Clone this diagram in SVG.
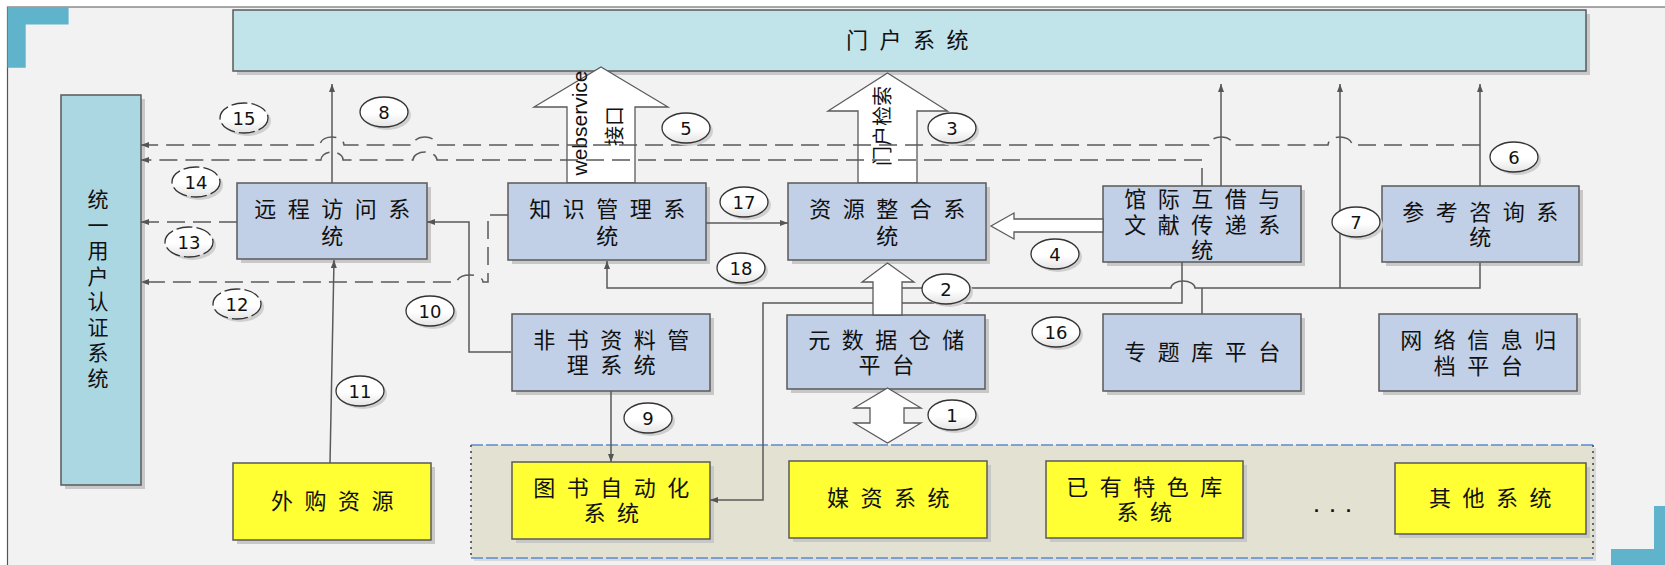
<svg xmlns="http://www.w3.org/2000/svg" width="1665" height="565" viewBox="0 0 1665 565">
<defs>
<style>
.bx{stroke:#5a5a5a;stroke-width:1.5}
.sh{fill:#c8c8c8}
.blue{fill:#c1d0e7}
.yel{fill:#ffff33}
.t{font-family:"Liberation Sans","Noto Sans CJK SC",sans-serif;font-size:22px;fill:#111;text-anchor:middle;letter-spacing:11.5px}
.tr{font-family:"Liberation Sans","Noto Sans CJK SC",sans-serif;font-size:20px;fill:#111;text-anchor:middle}
.n{font-family:"DejaVu Sans","Liberation Sans",sans-serif;font-size:18px;fill:#111;text-anchor:middle}
.el{fill:url(#cg);stroke:#333;stroke-width:1.3}
.eld{fill:url(#cg);stroke:#333;stroke-width:1.3;stroke-dasharray:16 4}
.esh{fill:#cfcfcf}
.ln{fill:none;stroke:#5a5a5a;stroke-width:1.5}
.dl{fill:none;stroke:#5a5a5a;stroke-width:1.5;stroke-dasharray:18 8}
.ba{fill:#ffffff;stroke:#5a5a5a;stroke-width:1.3}
.teal{fill:#5fb3cb}
</style>
<linearGradient id="cg" x1="0" y1="0" x2="0" y2="1">
<stop offset="0" stop-color="#ffffff"/>
<stop offset="0.55" stop-color="#ffffff"/>
<stop offset="1" stop-color="#e4e4e4"/>
</linearGradient>
<marker id="ah" viewBox="0 0 8 6" refX="8" refY="3" markerWidth="8" markerHeight="6" orient="auto" markerUnits="userSpaceOnUse">
<path d="M0,0 L8,3 L0,6 z" fill="#555"/>
</marker>
</defs>

<rect x="0" y="0" width="1665" height="565" fill="#ffffff"/>
<rect x="7.5" y="7" width="1657.5" height="558" fill="#f2f2f2"/>
<g id="frame">
<path d="M7.5,565 V7 H1665" fill="none" stroke="#555" stroke-width="1.2"/>
<path class="teal" d="M7.5,7 H68.6 V24.5 H25.7 V67.7 H7.5 Z"/>
<path class="teal" d="M1654,506 H1665 V565 H1611 V549 H1654 Z"/>
</g>

<g id="container">
<rect x="474" y="448" width="1122" height="113" fill="#d9d9d9"/>
<rect x="471" y="445" width="1122" height="113" fill="#e3e2d2"/>
<path d="M471,445 H1593 M471,558 H1593" fill="none" stroke="#5b8bd0" stroke-width="1.5" stroke-dasharray="12 3"/>
<path d="M471,445 V558 M1593,445 V558" fill="none" stroke="#666" stroke-width="2" stroke-dasharray="2 4"/>
</g>

<g id="portal">
<rect x="237" y="14" width="1353" height="61" class="sh"/>
<rect x="233" y="10" width="1353" height="61" fill="#c1e3ea" class="bx"/>
<text class="t" x="913" y="48">门户系统</text>
</g>

<g id="auth">
<rect x="65" y="99" width="80" height="390" class="sh"/>
<rect x="61" y="95" width="80" height="390" fill="#abd7e3" class="bx"/>
<text x="98" y="189" style="font-family:'Noto Sans CJK SC',sans-serif;font-size:21px;fill:#111;writing-mode:vertical-rl;letter-spacing:4.5px">统一用户认证系统</text>
</g>

<g id="arrow-webservice">
<polygon class="ba" points="601,67 668,107 635,107 635,183 567,183 567,107 534,107"/>
<text transform="translate(587,123) rotate(-90)" style="font-family:'Liberation Sans',Arial,sans-serif;font-size:21px;fill:#111;text-anchor:middle">webservice</text>
<text class="tr" transform="translate(622,126) rotate(-90)">接口</text>
</g>

<g id="arrow-portal-search">
<polygon class="ba" points="887.5,73 947.5,111 917,111 917,183 858,183 858,111 828,111"/>
<text class="tr" transform="translate(890,126) rotate(-90)">门户检索</text>
</g>

<g id="remote">
<rect x="241" y="187" width="190" height="76" class="sh"/>
<rect x="237" y="183" width="190" height="76" class="blue bx"/>
<text class="t" x="338" y="217">远程访问系</text>
<text class="t" x="338" y="244">统</text>
</g>

<g id="knowledge">
<rect x="512" y="187" width="198" height="77" class="sh"/>
<rect x="508" y="183" width="198" height="77" class="blue bx"/>
<text class="t" x="613" y="217">知识管理系</text>
<text class="t" x="613" y="244">统</text>
</g>

<g id="integration">
<rect x="792" y="187" width="198" height="77" class="sh"/>
<rect x="788" y="183" width="198" height="77" class="blue bx"/>
<text class="t" x="893" y="217">资源整合系</text>
<text class="t" x="893" y="244">统</text>
</g>

<g id="ill">
<rect x="1107" y="190" width="198" height="76" class="sh"/>
<rect x="1103" y="186" width="198" height="76" class="blue bx"/>
<text class="t" x="1208" y="207">馆际互借与</text>
<text class="t" x="1208" y="233">文献传递系</text>
<text class="t" x="1208" y="258">统</text>
</g>

<g id="reference">
<rect x="1386" y="190" width="197" height="76" class="sh"/>
<rect x="1382" y="186" width="197" height="76" class="blue bx"/>
<text class="t" x="1486" y="220">参考咨询系</text>
<text class="t" x="1486" y="245">统</text>
</g>

<g id="nonbook">
<rect x="516" y="318" width="198" height="77" class="sh"/>
<rect x="512" y="314" width="198" height="77" class="blue bx"/>
<text class="t" x="617" y="348">非书资料管</text>
<text class="t" x="617" y="373">理系统</text>
</g>

<g id="metadata">
<rect x="791" y="319" width="198" height="74" class="sh"/>
<rect x="787" y="315" width="198" height="74" class="blue bx"/>
<text class="t" x="892" y="348">元数据仓储</text>
<text class="t" x="892" y="373">平台</text>
</g>

<g id="topic">
<rect x="1107" y="318" width="198" height="77" class="sh"/>
<rect x="1103" y="314" width="198" height="77" class="blue bx"/>
<text class="t" x="1208" y="360">专题库平台</text>
</g>

<g id="webarchive">
<rect x="1383" y="318" width="198" height="77" class="sh"/>
<rect x="1379" y="314" width="198" height="77" class="blue bx"/>
<text class="t" x="1484" y="348">网络信息归</text>
<text class="t" x="1484" y="374">档平台</text>
</g>

<g id="purchased">
<rect x="237" y="467" width="198" height="77" class="sh"/>
<rect x="233" y="463" width="198" height="77" class="yel bx"/>
<text class="t" x="338" y="509">外购资源</text>
</g>

<g id="library-automation">
<rect x="516" y="466" width="198" height="77" class="sh"/>
<rect x="512" y="462" width="198" height="77" class="yel bx"/>
<text class="t" x="617" y="496">图书自动化</text>
<text class="t" x="617" y="521">系统</text>
</g>

<g id="media">
<rect x="793" y="465" width="198" height="77" class="sh"/>
<rect x="789" y="461" width="198" height="77" class="yel bx"/>
<text class="t" x="894" y="506">媒资系统</text>
</g>

<g id="special-db">
<rect x="1050" y="465" width="197" height="77" class="sh"/>
<rect x="1046" y="461" width="197" height="77" class="yel bx"/>
<text class="t" x="1150" y="495">已有特色库</text>
<text class="t" x="1150" y="520">系统</text>
</g>

<g id="ellipsis">
<text x="1338" y="512" style="font-family:'Liberation Sans',Arial,sans-serif;font-size:18px;fill:#111;text-anchor:middle;letter-spacing:11px;font-weight:bold">...</text>
</g>

<g id="other">
<rect x="1399" y="467" width="191" height="71" class="sh"/>
<rect x="1395" y="463" width="191" height="71" class="yel bx"/>
<text class="t" x="1496" y="506">其他系统</text>
</g>

<g id="connectors">
<path class="ln" d="M332,183 V84" marker-end="url(#ah)"/>
<path class="ln" d="M330,463 L334,260" marker-end="url(#ah)"/>
<path class="ln" d="M511,352 H469 V222 H427" marker-end="url(#ah)"/>
<path class="ln" d="M611,391 V462" marker-end="url(#ah)"/>
<path class="ln" d="M1182,262 V303 H763 V500 H710" marker-end="url(#ah)"/>
<path class="ln" d="M1480,263 V288 H1195 A12 7 0 0 0 1171 288 H607 V261" marker-end="url(#ah)"/>
<path class="ln" d="M1202,314 V288"/>
<path class="ln" d="M1340,288 V84" marker-end="url(#ah)"/>
<path class="ln" d="M1480,186 V84" marker-end="url(#ah)"/>
<path class="ln" d="M1221,186 V84" marker-end="url(#ah)"/>
<path class="ln" d="M706,223 H788" marker-end="url(#ah)"/>
<path class="dl" d="M1480,145 H1352 A12 8 0 0 0 1328 145 H1233 A12 8 0 0 0 1209 145 H437 A12 8 0 0 0 413 145 H344 A12 8 0 0 0 320 145 H141" marker-end="url(#ah)"/>
<path class="dl" d="M1202,186 V160 H437 A12 8 0 0 0 413 160 H343 A11 8 0 0 0 321 160 H141" marker-end="url(#ah)"/>
<path class="dl" d="M237,222 H141" marker-end="url(#ah)"/>
<path class="dl" d="M508,215 H488 V282 H483 A13 7 0 0 0 457 282 H141" marker-end="url(#ah)"/>
</g>

<g id="arrow-metadata">
<polygon class="ba" points="887.5,263 914,282 902,282 902,315 873,315 873,282 862,282"/>
</g>

<g id="arrow-sync">
<polygon class="ba" points="887.5,388 921,408 904,408 904,423 921,423 887.5,443 854,423 870,423 870,408 854,408"/>
</g>

<g id="arrow-ill">
<polygon class="ba" points="991,226 1014,213 1014,219 1103,219 1103,232 1014,232 1014,239"/>
</g>

<g id="labels">
<g id="lbl1"><ellipse class="esh" cx="955" cy="418" rx="24" ry="15"/><ellipse class="el" cx="952" cy="415" rx="24" ry="15"/><text class="n" x="952" y="421.5">1</text></g>
<g id="lbl2"><ellipse class="esh" cx="949" cy="292" rx="24" ry="15"/><ellipse class="el" cx="946" cy="289" rx="24" ry="15"/><text class="n" x="946" y="295.5">2</text></g>
<g id="lbl3"><ellipse class="esh" cx="955" cy="131" rx="24" ry="15"/><ellipse class="el" cx="952" cy="128" rx="24" ry="15"/><text class="n" x="952" y="134.5">3</text></g>
<g id="lbl4"><ellipse class="esh" cx="1058" cy="257" rx="24" ry="15"/><ellipse class="el" cx="1055" cy="254" rx="24" ry="15"/><text class="n" x="1055" y="260.5">4</text></g>
<g id="lbl5"><ellipse class="esh" cx="689" cy="131" rx="24" ry="15"/><ellipse class="el" cx="686" cy="128" rx="24" ry="15"/><text class="n" x="686" y="134.5">5</text></g>
<g id="lbl6"><ellipse class="esh" cx="1517" cy="160" rx="24" ry="15"/><ellipse class="el" cx="1514" cy="157" rx="24" ry="15"/><text class="n" x="1514" y="163.5">6</text></g>
<g id="lbl7"><ellipse class="esh" cx="1359" cy="225" rx="24" ry="15"/><ellipse class="el" cx="1356" cy="222" rx="24" ry="15"/><text class="n" x="1356" y="228.5">7</text></g>
<g id="lbl8"><ellipse class="esh" cx="387" cy="115" rx="24" ry="15"/><ellipse class="el" cx="384" cy="112" rx="24" ry="15"/><text class="n" x="384" y="118.5">8</text></g>
<g id="lbl9"><ellipse class="esh" cx="651" cy="421" rx="24" ry="15"/><ellipse class="el" cx="648" cy="418" rx="24" ry="15"/><text class="n" x="648" y="424.5">9</text></g>
<g id="lbl10"><ellipse class="esh" cx="433" cy="314" rx="24" ry="15"/><ellipse class="el" cx="430" cy="311" rx="24" ry="15"/><text class="n" x="430" y="317.5">10</text></g>
<g id="lbl11"><ellipse class="esh" cx="363" cy="394" rx="24" ry="15"/><ellipse class="el" cx="360" cy="391" rx="24" ry="15"/><text class="n" x="360" y="397.5">11</text></g>
<g id="lbl12"><ellipse class="esh" cx="240" cy="307" rx="24" ry="15"/><ellipse class="eld" cx="237" cy="304" rx="24" ry="15"/><text class="n" x="237" y="310.5">12</text></g>
<g id="lbl13"><ellipse class="esh" cx="192" cy="245" rx="24" ry="15"/><ellipse class="eld" cx="189" cy="242" rx="24" ry="15"/><text class="n" x="189" y="248.5">13</text></g>
<g id="lbl14"><ellipse class="esh" cx="199" cy="185" rx="24" ry="15"/><ellipse class="eld" cx="196" cy="182" rx="24" ry="15"/><text class="n" x="196" y="188.5">14</text></g>
<g id="lbl15"><ellipse class="esh" cx="247" cy="121" rx="24" ry="15"/><ellipse class="eld" cx="244" cy="118" rx="24" ry="15"/><text class="n" x="244" y="124.5">15</text></g>
<g id="lbl16"><ellipse class="esh" cx="1059" cy="335" rx="24" ry="15"/><ellipse class="el" cx="1056" cy="332" rx="24" ry="15"/><text class="n" x="1056" y="338.5">16</text></g>
<g id="lbl17"><ellipse class="esh" cx="747" cy="205" rx="24" ry="15"/><ellipse class="el" cx="744" cy="202" rx="24" ry="15"/><text class="n" x="744" y="208.5">17</text></g>
<g id="lbl18"><ellipse class="esh" cx="744" cy="271" rx="24" ry="15"/><ellipse class="el" cx="741" cy="268" rx="24" ry="15"/><text class="n" x="741" y="274.5">18</text></g>
</g>
</svg>
